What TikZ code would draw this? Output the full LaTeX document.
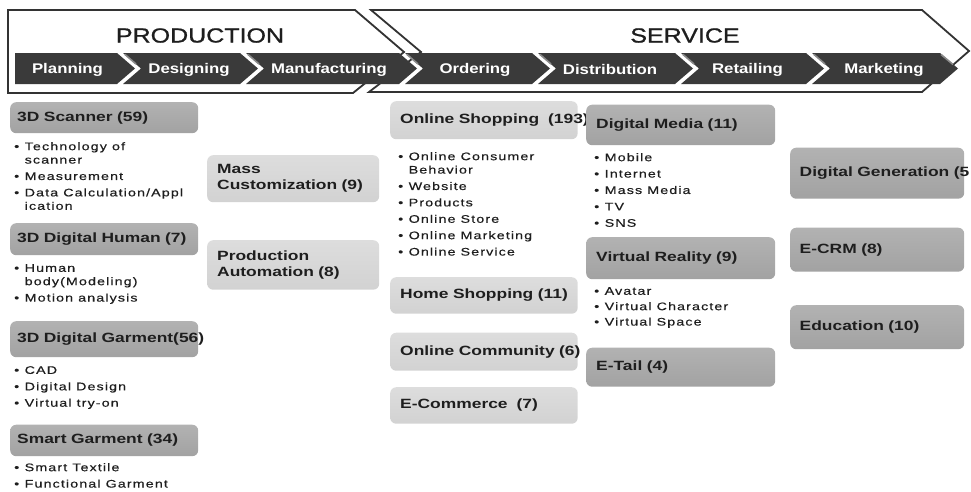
\documentclass[tikz,border=0pt]{standalone}
\usepackage{fontspec}
\setmainfont{Liberation Sans}
\newfontfamily\boxfont{Liberation Sans}[FakeStretch=1.3]
\newfontfamily\listfont{Liberation Sans}[FakeStretch=1.3,LetterSpace=10,FakeBold=0.4]
\newfontfamily\bandfont{Liberation Sans}[FakeStretch=1.2]
\newfontfamily\headfont{Liberation Sans}[FakeStretch=1.22,FakeBold=1]
\newcommand\bul{\makebox[10.5pt][l]{\textbullet}}
\newcommand\ind{\hspace*{10.5pt}}
\definecolor{banddark}{HTML}{3A3A3A}
\definecolor{bandhi}{HTML}{8A8A8A}
\definecolor{boxdark}{HTML}{A2A2A2}
\definecolor{boxdarkhi}{HTML}{B2B2B2}
\definecolor{boxlight}{HTML}{D2D2D2}
\definecolor{boxlighthi}{HTML}{DDDDDD}
\definecolor{ink}{HTML}{1E1E1E}
\begin{document}
\begin{tikzpicture}[x=1pt,y=-1pt,
  outline/.style={draw=black!80,line width=1.8pt,fill=white,line join=miter},
  headtitle/.style={text=ink,inner sep=0pt,font=\headfont\fontsize{20.5}{24}\selectfont},
  bandseg/.style={fill=banddark},
  bandglint/.style={draw=bandhi,line width=1.6pt},
  bandlabel/.style={text=white,inner sep=0pt,font=\bandfont\bfseries\fontsize{14}{16}\selectfont},
  catbox/.style={rounded corners=6pt,anchor=north west,inner ysep=0pt,align=left,
    text=ink,font=\boxfont\bfseries\fontsize{13.4}{16}\selectfont},
  darkbox/.style={catbox,top color=boxdarkhi,bottom color=boxdark},
  lightbox/.style={catbox,top color=boxlighthi,bottom color=boxlight},
  colA/.style={minimum width=188pt,text width=174pt,inner xsep=7pt},
  colB/.style={minimum width=172pt,text width=152pt,inner xsep=10pt},
  colC/.style={minimum width=187.5pt,text width=167.5pt,inner xsep=10pt},
  colD/.style={minimum width=189pt,text width=169pt,inner xsep=10pt},
  colE/.style={minimum width=174pt,text width=155pt,inner xsep=9.5pt},
  itemlist/.style={anchor=north west,inner sep=0pt,align=left,text=ink,
    font=\listfont\fontsize{11}{16.4}\selectfont}]
\useasboundingbox (0,0) rectangle (971,491);
\begin{scope}
\clip (0,0) rectangle (971,491);

% phase outlines
\draw[outline] (8,10) -- (355,10) -- (404,52) -- (353,93) -- (8,93) -- cycle;
\draw[outline] (371,10) -- (922,10) -- (969,51) -- (922,92) -- (369,92) -- (421,52) -- cycle;
\node[headtitle] (production) at (200,35.5) {PRODUCTION};
\node[headtitle] (service) at (685,35.5) {SERVICE};

% value-chain band
\fill[bandseg] (15,53) -- (117,53) -- ++(18,15.5) -- (117,84) -- (15,84) -- cycle;
\foreach \l/\r in {123/240,246/399,405/532,538/675,681/806,812/940}{
  \fill[bandseg] (\l,53) -- (\r,53) -- ++(18,15.5) -- (\r,84) -- (\l,84) -- ++(18,-15.5) -- cycle;
  \draw[bandglint] (\l+2,54.5) -- ++(11,9.5);
}
\draw[bandglint] (941,54.5) -- ++(12,10);
\node[bandlabel] (planning) at (67.5,69.5) {Planning};
\node[bandlabel] (designing) at (189,69.5) {Designing};
\node[bandlabel] (manufacturing) at (329,69.5) {Manufacturing};
\node[bandlabel] (ordering) at (475,69.5) {Ordering};
\node[bandlabel] (distribution) at (610,69.5) {Distribution};
\node[bandlabel] (retailing) at (747.5,69.5) {Retailing};
\node[bandlabel] (marketing) at (884,69.5) {Marketing};

% planning / designing column
\node[darkbox,colA,minimum height=31pt] (scanner) at (10,102) {\mbox{3D Scanner (59)}};
\node[itemlist] (scanneritems) at (14,142) {\bul Technology of\\[-3pt]\ind scanner\\\bul Measurement\\\bul Data Calculation/Appl\\[-3pt]\ind ication};
\node[darkbox,colA,minimum height=32pt] (human) at (10,223) {\mbox{3D Digital Human (7)}};
\node[itemlist] (humanitems) at (14,264) {\bul Human\\[-3pt]\ind body(Modeling)\\\bul Motion analysis};
\node[darkbox,colA,minimum height=36pt] (garment) at (10,321) {\mbox{3D Digital Garment(56)}};
\node[itemlist] (garmentitems) at (14,366) {\bul CAD\\\bul Digital Design\\\bul Virtual try-on};
\node[darkbox,colA,minimum height=31.5pt] (smart) at (10,424.5) {\mbox{Smart Garment (34)}};
\node[itemlist] (smartitems) at (14,463) {\bul Smart Textile\\\bul Functional Garment};

% manufacturing column
\node[lightbox,colB,minimum height=47pt] (masscust) at (207,155) {\mbox{Mass}\\\mbox{Customization (9)}};
\node[lightbox,colB,minimum height=49.5pt] (automation) at (207,240) {\mbox{Production}\\\mbox{Automation (8)}};

% ordering column
\node[lightbox,colC,minimum height=38pt] (onlineshop) at (390,101) {\mbox{Online Shopping\ \ (193)}};
\node[itemlist] (onlineshopitems) at (398,152) {\bul Online Consumer\\[-3pt]\ind Behavior\\\bul Website\\\bul Products\\\bul Online Store\\\bul Online Marketing\\\bul Online Service};
\node[lightbox,colC,minimum height=36.5pt] (homeshop) at (390,277) {\mbox{Home Shopping (11)}};
\node[lightbox,colC,minimum height=38pt] (community) at (390,332.5) {\mbox{Online Community (6)}};
\node[lightbox,colC,minimum height=36.5pt] (ecommerce) at (390,387) {\mbox{E-Commerce\ \ (7)}};

% distribution / retailing column
\node[darkbox,colD,minimum height=40.5pt] (digitalmedia) at (586,104.5) {\mbox{Digital Media (11)}};
\node[itemlist] (digitalmediaitems) at (594,153) {\bul Mobile\\\bul Internet\\\bul Mass Media\\\bul TV\\\bul SNS};
\node[darkbox,colD,minimum height=42pt] (virtualreality) at (586,237) {\mbox{Virtual Reality (9)}};
\node[itemlist] (virtualrealityitems) at (594,287) {\bul Avatar\\[-1pt]\bul Virtual Character\\[-1pt]\bul Virtual Space};
\node[darkbox,colD,minimum height=39pt] (etail) at (586,347.5) {\mbox{E-Tail (4)}};

% marketing column
\node[darkbox,colE,minimum height=51pt] (digitalgen) at (790,147.5) {\mbox{Digital Generation (5}};
\node[darkbox,colE,minimum height=44pt] (ecrm) at (790,227.5) {\mbox{E-CRM (8)}};
\node[darkbox,colE,minimum height=44pt] (education) at (790,305) {\mbox{Education (10)}};
\end{scope}
\end{tikzpicture}
\end{document}
